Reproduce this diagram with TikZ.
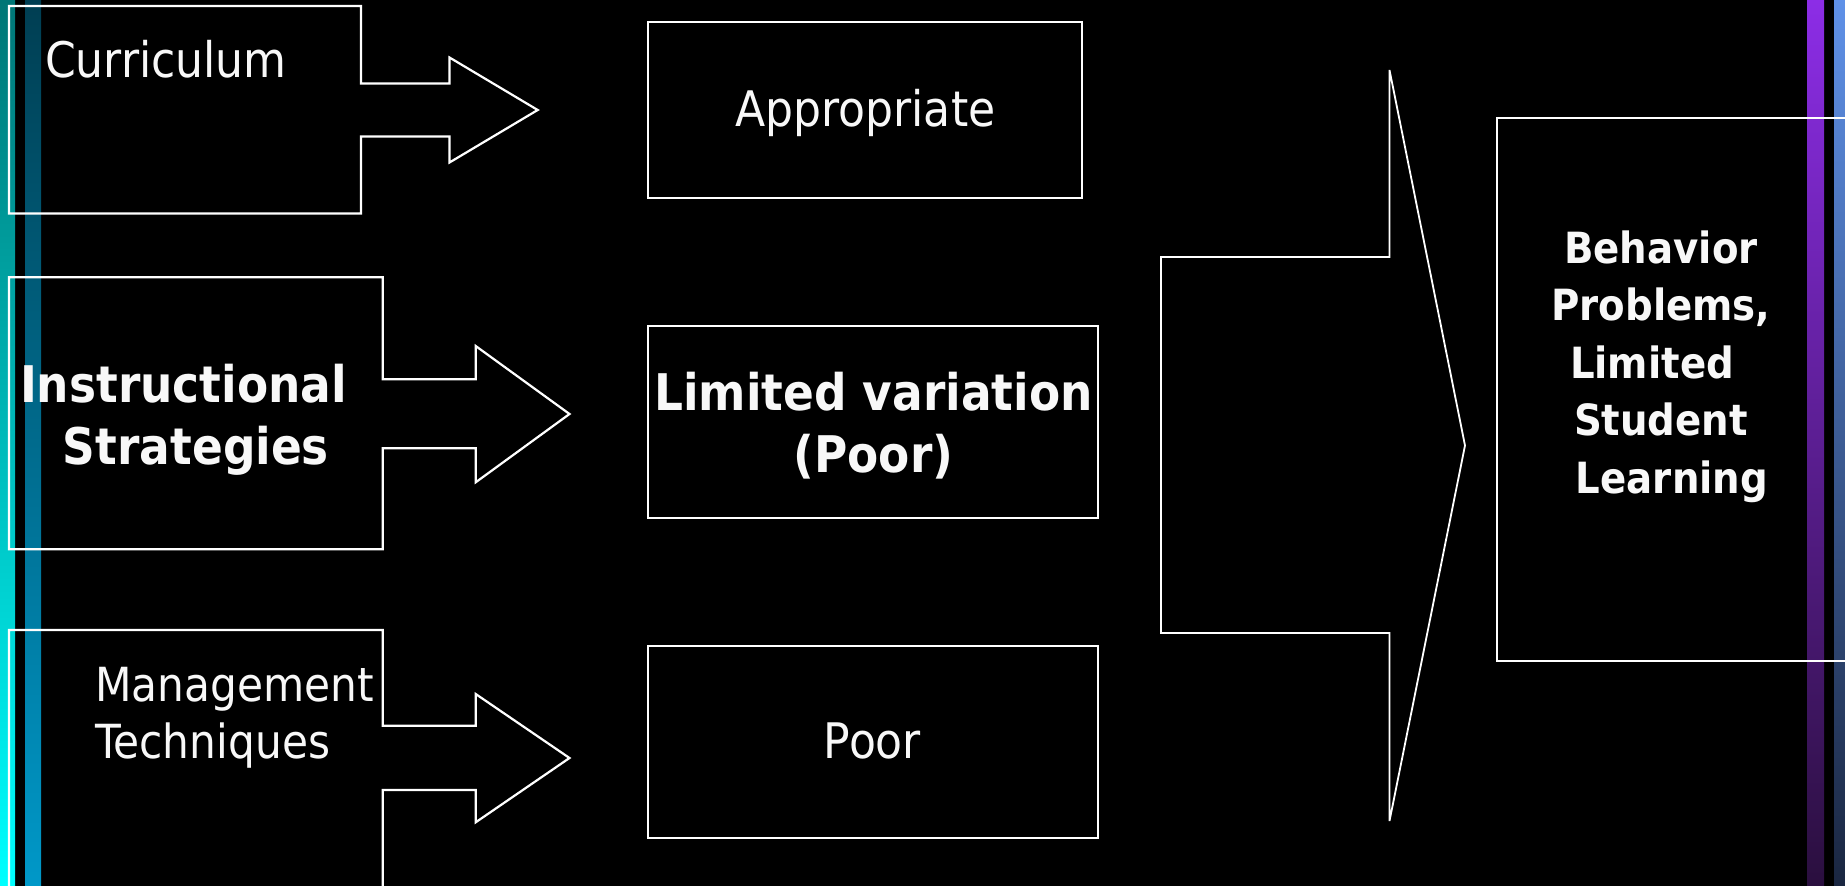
\documentclass[tikz,border=0pt]{standalone}
\usepackage{fontspec}
\setmainfont{DejaVu Sans}[FakeStretch=0.9]
\definecolor{cyanTop}{RGB}{0,118,118}
\definecolor{cyanBot}{RGB}{0,255,255}
\definecolor{tealTop}{RGB}{0,62,82}
\definecolor{tealBot}{RGB}{0,152,200}
\definecolor{purpTop}{RGB}{140,45,230}
\definecolor{purpBot}{RGB}{42,15,62}
\definecolor{blueTop}{RGB}{95,145,232}
\definecolor{blueBot}{RGB}{26,38,64}
\definecolor{txtwhite}{RGB}{248,248,248}
\begin{document}
\begin{tikzpicture}[x=1pt,y=-1pt,line join=miter]
\tikzset{
  outl/.style={draw=white,line width=2.2pt},
  bigoutl/.style={draw=white,line width=1.8pt},
  boxnode/.style={outl,inner sep=0pt,outer sep=0pt,anchor=north west},
  txt/.style={text=txtwhite,inner sep=0pt,outer sep=0pt},
  reg/.style={txt,font=\fontsize{47}{56.6}\selectfont},
  regbig/.style={txt,font=\fontsize{49}{56.6}\selectfont},
  bld/.style={txt,font=\fontsize{50.5}{62}\selectfont\bfseries},
  bldsmall/.style={txt,font=\fontsize{43}{57.5}\selectfont\bfseries},
}
\fill[black] (0,0) rectangle (1845,886);
\useasboundingbox (0,0) rectangle (1845,886);
\begin{scope}
\clip (0,0) rectangle (1845,886);
% side stripes
\shade[top color=cyanTop,bottom color=cyanBot] (0,0) rectangle (15,886);
\shade[top color=tealTop,bottom color=tealBot] (25,0) rectangle (41,886);
\shade[top color=purpTop,bottom color=purpBot] (1807,0) rectangle (1824,886);
\shade[top color=blueTop,bottom color=blueBot] (1834,0) rectangle (1845,886);
% left arrow callouts
\draw[outl] (9,6) -- (361,6) -- (361,83.5) -- (449.5,83.5) -- (449.5,57.5)
  -- (537.7,110) -- (449.5,162.5) -- (449.5,136.5) -- (361,136.5)
  -- (361,213.5) -- (9,213.5) -- cycle;
\draw[outl] (9,277.3) -- (382.7,277.3) -- (382.7,379.3) -- (475.7,379.3) -- (475.7,346)
  -- (569.5,414) -- (475.7,482.3) -- (475.7,448.3) -- (382.7,448.3)
  -- (382.7,549.3) -- (9,549.3) -- cycle;
\draw[outl] (9,630) -- (382.7,630) -- (382.7,725.7) -- (475.7,725.7) -- (475.7,694)
  -- (569.5,758) -- (475.7,822.3) -- (475.7,790) -- (382.7,790)
  -- (382.7,900) -- (9,900) -- cycle;
% middle boxes
\node[boxnode,minimum width=433.4pt,minimum height=176pt] (app) at (648.3,21.7) {};
\node[boxnode,minimum width=449.4pt,minimum height=192pt] (lim) at (648.3,325.7) {};
\node[boxnode,minimum width=449.4pt,minimum height=192pt] (poor) at (648.3,645.7) {};
% big arrow
\draw[bigoutl] (1161,257) -- (1389.5,257) -- (1389.5,70) -- (1465,445.5)
  -- (1389.5,821) -- (1389.5,633) -- (1161,633) -- cycle;
% result box
\node[boxnode,minimum width=380pt,minimum height=543.6pt] (beh) at (1496.8,117.7) {};
\end{scope}
% texts
\node[regbig,anchor=base west] (tcur) at (45,77) {Curriculum};
\node[bld,anchor=north,align=center] (tins) at (196,363.7) {Instructional\makebox[25pt]{}\\Strategies};
\node[reg,anchor=north west,align=left] (tman) at (95,667.4) {Management\\Techniques};
\node[regbig,anchor=base] (tapp) at (865.3,126.7) {Appropriate};
\node[bld,anchor=north,align=center] (tlim) at (873.5,372) {Limited variation\\(Poor)};
\node[regbig,anchor=base] (tpoor) at (872.5,758.3) {Poor};
\node[bldsmall,anchor=north,align=center] (tbeh) at (1661,230.6) {Behavior\\Problems,\\Limited\makebox[18pt]{}\\Student\\\makebox[22pt]{}Learning};
\end{tikzpicture}
\end{document}
